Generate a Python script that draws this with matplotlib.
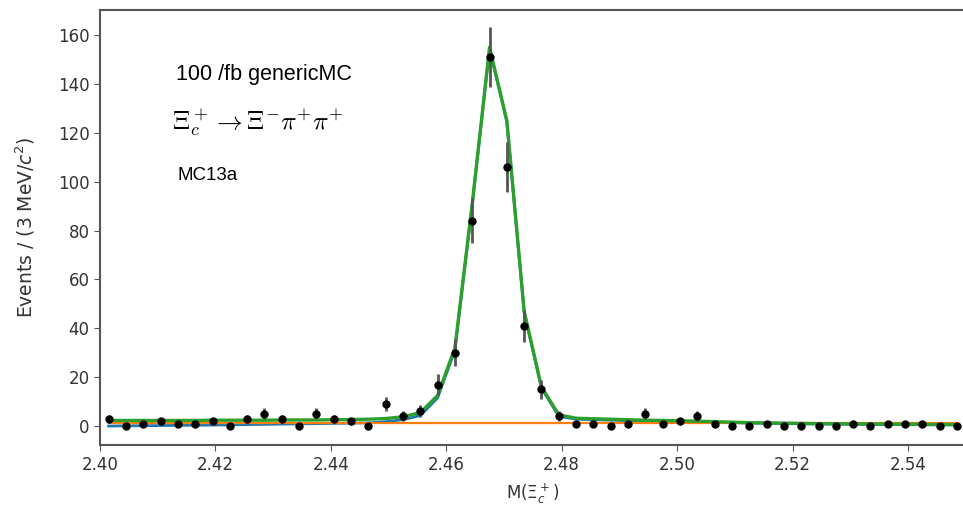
import numpy as np
import matplotlib
matplotlib.use('Agg')
import matplotlib.pyplot as plt

# histogram: 50 bins of 3 MeV from 2.40 to 2.55
bin_lo = 2.40
bin_width = 0.003
counts = [3, 0, 1, 2, 1, 1, 2, 0, 3, 5,
          3, 0, 5, 3, 2, 0, 9, 4, 6, 17,
          30, 84, 151, 106, 41, 15, 4, 1, 1, 0,
          1, 5, 1, 2, 4, 1, 0, 0, 1, 0,
          0, 0, 0, 1, 0, 1, 1, 1, 0, 0]

# fit curves evaluated at bin centres
fit_blue = [0.0, 0.1, 0.15, 0.2, 0.3, 0.35, 0.4, 0.5, 0.6, 0.7,
            0.8, 0.9, 1.0, 1.1, 1.2, 1.3, 1.8, 2.6, 4.3, 11.5,
            31.0, 90.5, 154.5, 124.5, 46.5, 15.5, 4.0, 2.8, 2.6, 2.4,
            2.2, 2.1, 2.0, 1.9, 1.8, 1.6, 1.4, 1.2, 1.1, 1.0,
            0.9, 0.85, 0.8, 0.75, 0.7, 0.65, 0.6, 0.55, 0.5, 0.5]
fit_bkg = [1.3] * 50
fit_total = [2.3, 2.3, 2.3, 2.3, 2.3, 2.3, 2.4, 2.4, 2.4, 2.4,
             2.5, 2.5, 2.5, 2.6, 2.7, 2.8, 3.1, 3.8, 5.5, 12.5,
             32.0, 91.0, 155.0, 125.0, 47.0, 16.0, 4.6, 3.2, 3.0, 2.8,
             2.6, 2.4, 2.3, 2.2, 2.0, 1.8, 1.6, 1.4, 1.3, 1.2,
             1.1, 1.0, 0.95, 0.9, 0.85, 0.8, 0.75, 0.7, 0.65, 0.6]

x_ticks = [2.40, 2.42, 2.44, 2.46, 2.48, 2.50, 2.52, 2.54]
y_ticks = [0, 20, 40, 60, 80, 100, 120, 140, 160]

centres = bin_lo + bin_width * (np.arange(len(counts)) + 0.5)
counts = np.array(counts)
errs = np.sqrt(counts)

fig = plt.figure(figsize=(9.63, 5.14), dpi=100)
ax = fig.add_axes([0.1038, 0.134, 0.899, 0.846])

ax.plot(centres, fit_blue, color='tab:blue', lw=2.0, zorder=2)
ax.plot(centres, fit_bkg, color='tab:orange', lw=1.6, zorder=2)
ax.plot(centres, fit_total, color='tab:green', lw=2.4, zorder=3)
ax.errorbar(centres, counts, yerr=errs, fmt='o', color='black', ms=5,
            ecolor='#555555', elinewidth=2.0, zorder=4)

ax.set_xlim(2.40, 2.55)
ax.set_ylim(-7.8, 170.2)
ax.set_xticks(x_ticks)
ax.set_xticklabels([f"{t:.2f}" for t in x_ticks])
ax.set_yticks(y_ticks)
ax.tick_params(labelsize=12, labelcolor='#333333', color='#555555', length=4)
for sp in ax.spines.values():
    sp.set_color('#555555')
    sp.set_linewidth(1.5)

ax.set_ylabel(r"Events / (3 MeV/$c^2$)", fontsize=13.5, color='#333333',
              labelpad=15)
ax.set_xlabel(r"M($\Xi_c^+$)", fontsize=12, color='#333333', labelpad=6)

ax.text(0.0878, 0.852, "100 /fb genericMC", transform=ax.transAxes,
        fontsize=15.5, family='Liberation Sans', va='center', ha='left')
ax.text(0.083, 0.7425, r"$\Xi_c^+ \rightarrow \Xi^{-}\pi^{+}\pi^{+}$",
        transform=ax.transAxes, fontsize=18.5, va='center', ha='left',
        math_fontfamily='cm')
ax.text(0.090, 0.621, "MC13a", transform=ax.transAxes,
        fontsize=13.5, family='Liberation Sans', va='center', ha='left')

fig.savefig('out.png', dpi=100)
